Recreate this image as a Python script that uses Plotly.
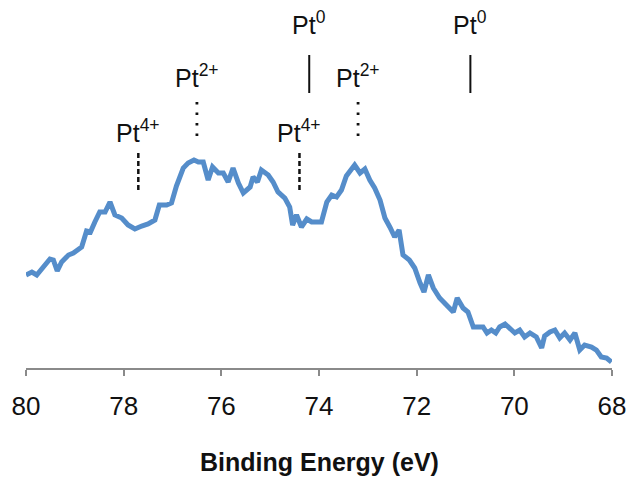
import plotly.graph_objects as go

# Binding energy (eV) and intensity (a.u.)
energy = [80.00, 79.88, 79.78, 79.65, 79.51, 79.44, 79.36, 79.27, 79.13, 79.03,
          78.86, 78.76, 78.68, 78.59, 78.49, 78.38, 78.28, 78.18, 78.04, 77.91,
          77.77, 77.63, 77.50, 77.36, 77.27, 77.12, 77.02, 76.92, 76.78, 76.68,
          76.56, 76.47, 76.37, 76.27, 76.18, 76.06, 75.96, 75.86, 75.76, 75.65,
          75.55, 75.41, 75.35, 75.26, 75.18, 75.04, 74.94, 74.84, 74.70, 74.60,
          74.54, 74.46, 74.36, 74.25, 74.15, 74.05, 73.95, 73.84, 73.74, 73.64,
          73.54, 73.44, 73.33, 73.27, 73.16, 73.06, 72.96, 72.86, 72.75, 72.65,
          72.55, 72.45, 72.36, 72.28, 72.15, 72.04, 71.93, 71.85, 71.76, 71.66,
          71.53, 71.39, 71.25, 71.17, 71.05, 70.95, 70.84, 70.74, 70.64, 70.56,
          70.47, 70.38, 70.30, 70.19, 70.09, 69.99, 69.89, 69.79, 69.68, 69.55,
          69.44, 69.38, 69.27, 69.17, 69.07, 68.97, 68.86, 68.76, 68.66, 68.56,
          68.42, 68.32, 68.22, 68.11, 68.01]
intensity = [93, 96, 93, 101, 109, 108, 97, 106, 113, 115,
             121, 137, 136, 146, 156, 156, 166, 153, 150, 143,
             139, 142, 144, 148, 163, 163, 165, 182, 200, 205,
             208, 206, 206, 188, 201, 195, 195, 186, 200, 185,
             175, 181, 191, 186, 198, 193, 186, 176, 170, 161,
             143, 153, 141, 149, 146, 146, 146, 166, 173, 171,
             178, 192, 198, 203, 195, 199, 188, 180, 168, 150,
             141, 131, 138, 113, 108, 100, 85, 76, 93, 80,
             70, 63, 56, 70, 60, 56, 41, 41, 41, 35,
             38, 35, 41, 44, 39, 35, 38, 31, 35, 31,
             20, 32, 36, 38, 30, 35, 28, 35, 18, 23,
             21, 18, 11, 10, 6]

# Peak markers
marker_labels = ["Pt<sup>4+</sup>", "Pt<sup>2+</sup>", "Pt<sup>0</sup>",
                 "Pt<sup>4+</sup>", "Pt<sup>2+</sup>", "Pt<sup>0</sup>"]
marker_energy = [77.7, 76.5, 74.2, 74.4, 73.2, 70.9]
marker_kind = ["4+", "2+", "0", "4+", "2+", "0"]
line_low = {"4+": 178, "2+": 232, "0": 275}
line_high = {"4+": 216, "2+": 266, "0": 313}
label_y = {"4+": 237, "2+": 292, "0": 345}
line_dash = {"4+": "5px,3px", "2+": "2.5px,8px", "0": "solid"}
line_w = {"4+": 2.5, "2+": 2.8, "0": 2}

tick_vals = [80, 78, 76, 74, 72, 70, 68]
x_title = "Binding Energy (eV)"

fig = go.Figure()
fig.add_trace(go.Scatter(x=energy, y=intensity, mode="lines",
                         line=dict(color="#558dca", width=5),
                         hoverinfo="skip", showlegend=False))

for lab, e, k in zip(marker_labels, marker_energy, marker_kind):
    fig.add_shape(type="line", xref="x", yref="y", x0=e, x1=e,
                  y0=line_low[k], y1=line_high[k],
                  line=dict(color="#111111", width=line_w[k], dash=line_dash[k]))
    fig.add_annotation(x=e, y=label_y[k], xref="x", yref="y", text=lab,
                       showarrow=False, xanchor="center", yanchor="middle",
                       font=dict(family="Liberation Sans, Arial", size=25, color="#111111"))

fig.add_annotation(x=0.5, y=0, xref="paper", yref="paper", yshift=-94,
                   text="<b>" + x_title + "</b>", showarrow=False,
                   xanchor="center", yanchor="middle",
                   font=dict(family="Liberation Sans, Arial", size=25, color="#111111"))

fig.update_layout(
    width=631, height=479,
    margin=dict(l=26, r=19, t=0, b=111),
    plot_bgcolor="white", paper_bgcolor="white",
    font=dict(family="Liberation Sans, Arial", color="#111111"),
    xaxis=dict(range=[80, 68], tickvals=tick_vals,
               ticktext=[str(v) for v in tick_vals],
               automargin=False,
               showline=True, linecolor="#8a8a8a", linewidth=1.5,
               ticks="outside", ticklen=6, tickcolor="#8a8a8a", tickwidth=1.5,
               showgrid=False, zeroline=False,
               tickfont=dict(size=26, family="Liberation Sans, Arial", color="#111111"),
               ticklabelstandoff=8),
    yaxis=dict(range=[0, 368], visible=False, showgrid=False, zeroline=False,
               automargin=False),
)

fig.write_html("out.html",
               config={"displayModeBar": False},
               post_script="document.body.style.margin='0';document.body.style.overflow='hidden';")
